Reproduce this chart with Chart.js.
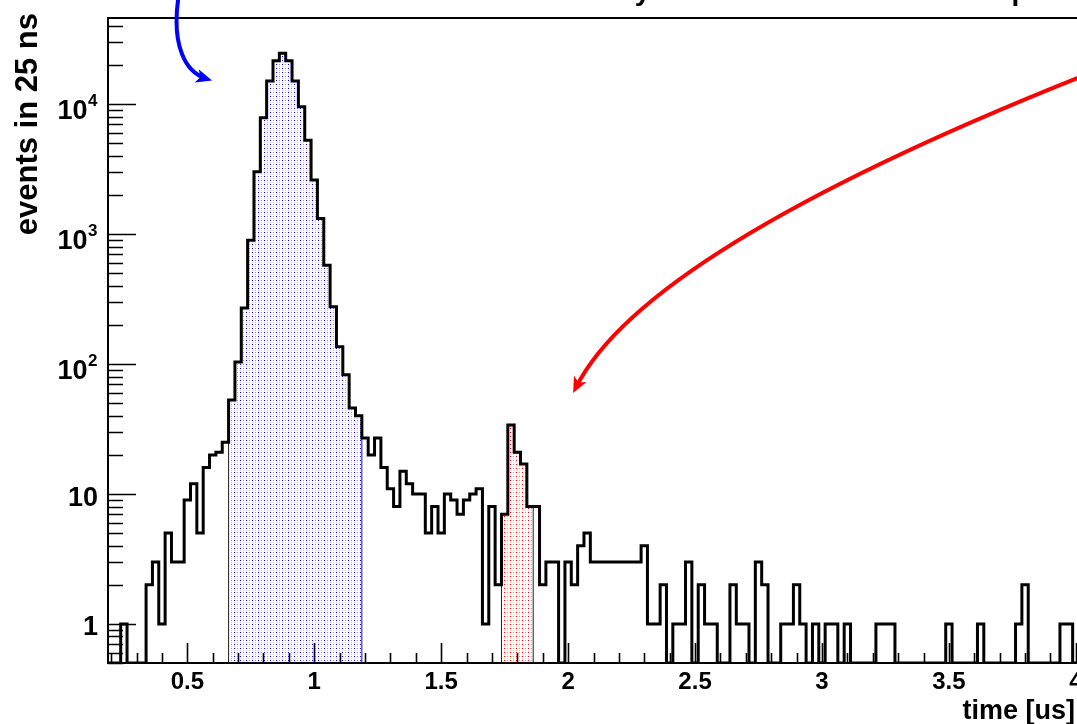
<!DOCTYPE html>
<html>
<head>
<meta charset="utf-8">
<script src="https://cdn.jsdelivr.net/npm/chart.js@4.4.1/dist/chart.umd.min.js"></script>
<style>
  html, body { margin: 0; padding: 0; background: #fff; overflow: hidden; }
  #wrap { width: 1090px; height: 724px; }
</style>
</head>
<body>
<div id="wrap"><canvas id="chart" width="1090" height="724"></canvas></div>
<script>
// time histogram, 25 ns bins, first bin centred on 0.2 us
const binStart = 0.1875
const binWidth = 0.025
const counts = [
  0, 0, 1, 0, 0, 0, 2, 3, 1, 5, 3, 3, 9, 12, 5, 16, 20, 21, 25,          // 0.200 - 0.650
  53, 104, 270, 900, 3030, 7900, 15100, 21700, 24700, 21700, 15100,      // 0.675 - 0.925
  9600, 5300, 2610, 1320, 578, 276, 136, 83, 46, 40,                     // 0.950 - 1.175
  27, 20, 27, 16, 11, 8, 15, 12, 10, 10, 5, 8, 5, 10, 9, 7, 9, 10, 11,   // 1.200 - 1.650
  1, 8, 2, 7, 34, 21, 17, 8, 8, 2, 3, 3, 0, 3, 2, 4, 5,                  // 1.675 - 2.075
  3, 3, 3, 3, 3, 3, 3, 3, 4, 1, 1, 2, 0, 1, 1, 3, 0, 2, 1, 1,            // 2.100 - 2.575
  0, 0, 2, 1, 1, 0, 3, 2, 0, 0, 1, 1, 2, 1, 0, 1, 0, 1, 1, 0,            // 2.600 - 3.075
  1, 0, 0, 0, 0, 1, 1, 1, 0, 0, 0, 0, 0, 0, 0, 0, 1, 0, 0, 0,            // 3.100 - 3.575
  0, 1, 0, 0, 0, 0, 0, 1, 2, 0, 0, 0, 0, 0, 1, 1, 0                      // 3.600 - 4.000
]
const promptRange = [0.6625, 1.1875]
const delayedRange = [1.7375, 1.8625]

const xMin = 0.1875
const xMax = 4.0125
const yMin = 0.5
const yMax = 46200

const xTicks = [0.5, 1, 1.5, 2, 2.5, 3, 3.5, 4]
const xTickLabels = ['0.5', '1', '1.5', '2', '2.5', '3', '3.5', '4']
const yTicks = [1, 10, 100, 1000, 10000]
const yTickLabels = [['1', ''], ['10', ''], ['10', '2'], ['10', '3'], ['10', '4']]
const xTitle = 'time [us]'
const yTitle = 'events in 25 ns'
// only the descenders of the title reach into the picture
const titleText = 'Time of delayed coincidence for the sample'

// annotation arrows, in data units (time, events)
const promptArrow = [[0.4634, 63600], [0.4397, 28620], [0.4909, 17600], [0.5973, 15280]]
const delayedArrow = [[4.0056, 15940], [2.2995, 740], [2.0197, 59.8]]

const font = 'bold {s}px "Liberation Sans", Arial, sans-serif'
const f = s => font.replace('{s}', s)

function dots (color, light, faint) {
  const c = document.createElement('canvas')
  c.width = 6
  c.height = 4
  const g = c.getContext('2d')
  g.fillStyle = color
  g.fillRect(0, 0, 1, 1)
  g.fillStyle = light
  g.fillRect(3, 0, 1, 1)
  g.fillStyle = faint
  g.fillRect(0, 2, 1, 1)
  g.fillRect(3, 2, 1, 1)
  return g.createPattern(c, 'repeat')
}

function outline () {
  const pts = counts.map((c, i) => ({ x: binStart + i * binWidth, y: Math.max(c, yMin) }))
  pts.push({ x: binStart + counts.length * binWidth, y: pts[pts.length - 1].y })
  return pts
}

function band (lo, hi) {
  const pts = [{ x: lo, y: yMin }]
  let last = yMin
  counts.forEach((c, i) => {
    const x0 = binStart + i * binWidth
    if (x0 > lo - 1e-6 && x0 < hi - 1e-6) {
      last = Math.max(c, yMin)
      pts.push({ x: x0, y: last })
    }
  })
  pts.push({ x: hi, y: last })
  pts.push({ x: hi, y: yMin })
  return pts
}

const rootFrame = {
  id: 'rootFrame',
  afterDraw (chart) {
    const { ctx, chartArea: a, scales: { x, y } } = chart
    ctx.save()
    ctx.strokeStyle = '#000'
    ctx.fillStyle = '#000'

    // frame
    ctx.lineWidth = 2
    ctx.beginPath()
    ctx.moveTo(a.right, a.top)
    ctx.lineTo(a.left, a.top)
    ctx.lineTo(a.left, a.bottom)
    ctx.lineTo(a.right, a.bottom)
    ctx.lineTo(a.right, a.top)
    ctx.stroke()

    // y ticks, inside the frame
    ctx.lineWidth = 1.6
    ctx.beginPath()
    for (let d = -1; d <= 4; d++) {
      for (let m = 1; m <= 9; m++) {
        const v = m * Math.pow(10, d)
        if (v < yMin || v > yMax) continue
        const py = Math.round(y.getPixelForValue(v)) + 0.5
        ctx.moveTo(a.left, py)
        ctx.lineTo(a.left + (m === 1 ? 28 : 15), py)
      }
    }
    // x ticks
    for (let k = 2; k <= 40; k++) {
      const v = k / 10
      if (v < xMin || v > xMax) continue
      const px = Math.round(x.getPixelForValue(v)) + 0.5
      ctx.moveTo(px, a.bottom)
      ctx.lineTo(px, a.bottom - (k % 5 === 0 ? 20 : 10))
    }
    ctx.stroke()

    // tick labels
    ctx.textBaseline = 'alphabetic'
    ctx.font = f(24)
    ctx.textAlign = 'center'
    xTicks.forEach((v, i) => ctx.fillText(xTickLabels[i], x.getPixelForValue(v), 689))

    ctx.textAlign = 'right'
    yTicks.forEach((v, i) => {
      const py = y.getPixelForValue(v)
      const [base, sup] = yTickLabels[i]
      if (!sup) {
        ctx.font = f(27)
        ctx.fillText(base, 98, py + 11.5)
      } else {
        ctx.font = f(17)
        ctx.fillText(sup, 97.5, py + 1.5)
        const w = ctx.measureText(sup).width
        ctx.font = f(27)
        ctx.fillText(base, 97.5 - w - 0.5, py + 14.5)
      }
    })

    // axis titles
    ctx.font = f(27)
    ctx.textAlign = 'right'
    ctx.fillText(xTitle, 1075, 719)
    ctx.font = f(31)
    ctx.save()
    ctx.translate(37, 13)
    ctx.rotate(-Math.PI / 2)
    ctx.fillText(yTitle, 0, 0)
    ctx.restore()

    // title, sits mostly above the picture
    ctx.font = f(28)
    ctx.textAlign = 'left'
    ctx.fillText(titleText, 472, -0.5)

    // arrows
    const px = p => [x.getPixelForValue(p[0]), y.getPixelForValue(p[1])]
    const head = (tip, from, color) => {
      const ang = Math.atan2(tip[1] - from[1], tip[0] - from[0])
      const L = 16
      const W = 7
      ctx.fillStyle = color
      ctx.beginPath()
      ctx.moveTo(tip[0], tip[1])
      ctx.lineTo(tip[0] - L * Math.cos(ang) + W * Math.sin(ang), tip[1] - L * Math.sin(ang) - W * Math.cos(ang))
      ctx.lineTo(tip[0] - L * 0.75 * Math.cos(ang), tip[1] - L * 0.75 * Math.sin(ang))
      ctx.lineTo(tip[0] - L * Math.cos(ang) - W * Math.sin(ang), tip[1] - L * Math.sin(ang) + W * Math.cos(ang))
      ctx.closePath()
      ctx.fill()
    }
    ctx.lineWidth = 4
    ctx.lineCap = 'round'

    const b = promptArrow.map(px)
    ctx.strokeStyle = '#0000ff'
    ctx.beginPath()
    ctx.moveTo(b[0][0], b[0][1])
    ctx.bezierCurveTo(b[1][0], b[1][1], b[2][0], b[2][1], b[3][0] - 6, b[3][1] - 2)
    ctx.stroke()
    head(b[3], b[2], '#0000ff')

    const r = delayedArrow.map(px)
    ctx.strokeStyle = '#ff0000'
    ctx.beginPath()
    ctx.moveTo(r[0][0], r[0][1])
    ctx.quadraticCurveTo(r[1][0], r[1][1], r[2][0] + 3, r[2][1] - 6)
    ctx.stroke()
    head(r[2], r[1], '#ff0000')

    ctx.restore()
  }
}

new Chart(document.getElementById('chart'), {
  type: 'line',
  data: {
    datasets: [
      {
        data: outline(),
        borderColor: '#000',
        borderWidth: 3,
        stepped: 'before',
        pointRadius: 0,
        fill: false
      },
      {
        data: band(promptRange[0], promptRange[1]),
        borderColor: '#222',
        borderWidth: 1,
        stepped: 'before',
        pointRadius: 0,
        backgroundColor: dots('#0000ff', '#8c8cff', '#c8c8ff'),
        fill: 'start'
      },
      {
        data: band(delayedRange[0], delayedRange[1]),
        borderColor: '#222',
        borderWidth: 1,
        stepped: 'before',
        pointRadius: 0,
        backgroundColor: dots('#ff0000', '#ff8c8c', '#ffc8c8'),
        fill: 'start'
      }
    ]
  },
  options: {
    responsive: false,
    devicePixelRatio: 1,
    animation: false,
    events: [],
    layout: { padding: { left: 108, top: 18, right: 11, bottom: 61 } },
    scales: {
      x: { type: 'linear', min: xMin, max: xMax, display: false },
      y: { type: 'logarithmic', min: yMin, max: yMax, display: false }
    },
    plugins: { legend: { display: false }, tooltip: { enabled: false } }
  },
  plugins: [rootFrame]
})
</script>
</body>
</html>
